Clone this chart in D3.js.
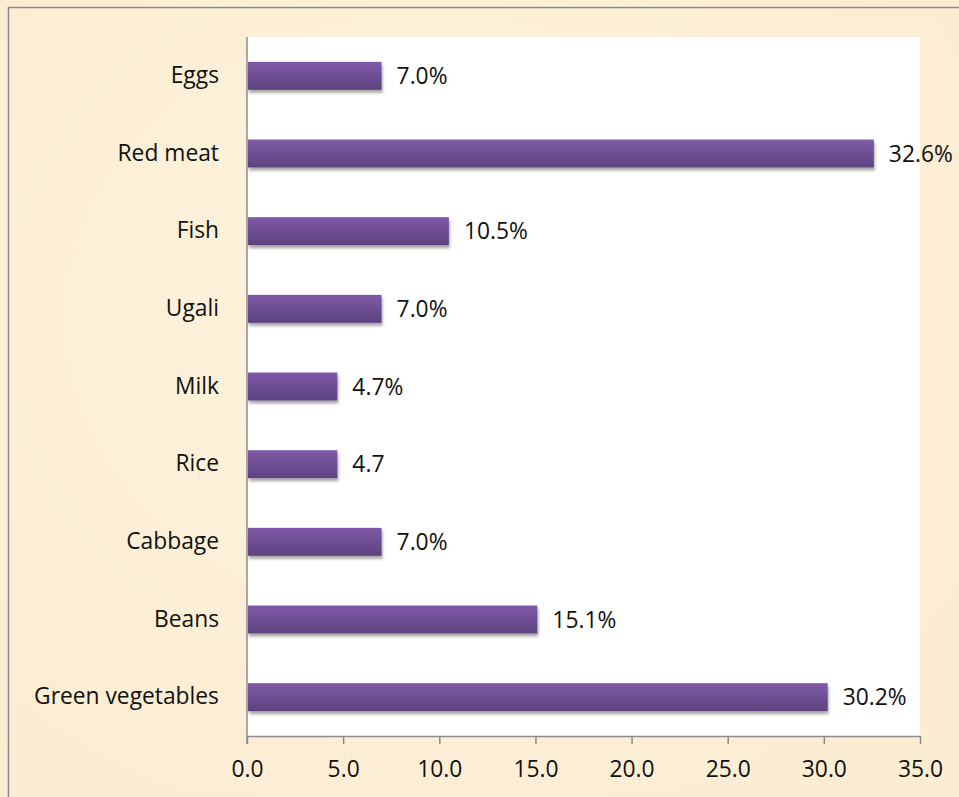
<!DOCTYPE html>
<html>
<head>
<meta charset="utf-8">
<script src="https://cdn.jsdelivr.net/npm/d3@7"></script>
<style>
  html, body { margin: 0; padding: 0; background: #fcf0d8; }
  svg { display: block; }
  text { font-family: "Open Sans", Lato, sans-serif; fill: #111; }
</style>
</head>
<body>
<svg id="chart" width="959" height="797"></svg>
<script>
// Food items, listed top to bottom
const categories = ["Eggs", "Red meat", "Fish", "Ugali", "Milk", "Rice", "Cabbage", "Beans", "Green vegetables"];
// Share of respondents (%)
const values = [7.0, 32.6, 10.5, 7.0, 4.7, 4.7, 7.0, 15.1, 30.2];
// Printed value labels
const valueLabels = ["7.0%", "32.6%", "10.5%", "7.0%", "4.7%", "4.7", "7.0%", "15.1%", "30.2%"];
// X axis ticks
const xTicks = [0, 5, 10, 15, 20, 25, 30, 35];

const W = 959, H = 797;
const plot = { left: 247, top: 37, right: 920, bottom: 736 };
const FONT = "'Open Sans', Lato, sans-serif";
const FS = 22.8;

const svg = d3.select("#chart");
const defs = svg.append("defs");

// Parchment background
const bg = defs.append("radialGradient").attr("id", "paper").attr("cx", "45%").attr("cy", "40%").attr("r", "75%");
bg.append("stop").attr("offset", "0%").attr("stop-color", "#fdf2dc");
bg.append("stop").attr("offset", "100%").attr("stop-color", "#fbedd2");

// Bar fill: lighter purple on top, darker at the bottom
const barGrad = defs.append("linearGradient").attr("id", "barFill").attr("x1", 0).attr("y1", 0).attr("x2", 0).attr("y2", 1);
barGrad.append("stop").attr("offset", "0%").attr("stop-color", "#7f5aa9");
barGrad.append("stop").attr("offset", "100%").attr("stop-color", "#5c427e");

// Soft drop shadow under each bar
const shadow = defs.append("filter").attr("id", "barShadow")
  .attr("x", "-5%").attr("y", "-30%").attr("width", "110%").attr("height", "170%");
shadow.append("feGaussianBlur").attr("in", "SourceAlpha").attr("stdDeviation", 1.6).attr("result", "blur");
shadow.append("feOffset").attr("in", "blur").attr("dx", 1).attr("dy", 3).attr("result", "off");
shadow.append("feComponentTransfer").attr("in", "off").attr("result", "shade")
  .append("feFuncA").attr("type", "linear").attr("slope", 0.35);
const merge = shadow.append("feMerge");
merge.append("feMergeNode").attr("in", "shade");
merge.append("feMergeNode").attr("in", "SourceGraphic");

svg.append("rect").attr("width", W).attr("height", H).attr("fill", "url(#paper)");

// Outer chart frame
svg.append("rect")
  .attr("x", 8.5).attr("y", 7.5).attr("width", W + 10).attr("height", H + 10)
  .attr("fill", "none").attr("stroke", "#8a8a8a").attr("stroke-width", 1.5);

// Plot area
svg.append("rect")
  .attr("x", plot.left).attr("y", plot.top)
  .attr("width", plot.right - plot.left).attr("height", plot.bottom - plot.top)
  .attr("fill", "#ffffff");

const x = d3.scaleLinear().domain([0, 35]).range([plot.left, plot.right]);
const y = d3.scaleBand().domain(categories).range([plot.top, plot.bottom]).paddingInner(0.64).paddingOuter(0.32);

// Bars
svg.append("g").selectAll("rect")
  .data(categories)
  .join("rect")
  .attr("x", x(0) + 1)
  .attr("y", d => y(d))
  .attr("width", (d, i) => x(values[i]) - x(0) - 1)
  .attr("height", y.bandwidth())
  .attr("fill", "url(#barFill)")
  .attr("filter", "url(#barShadow)");

// Value labels
svg.append("g").selectAll("text")
  .data(categories)
  .join("text")
  .attr("x", (d, i) => x(values[i]) + 15)
  .attr("y", d => y(d) + y.bandwidth() / 2)
  .attr("dy", "0.36em")
  .attr("font-size", FS)
  .text((d, i) => valueLabels[i]);

// Category axis
const yAxis = svg.append("g")
  .attr("transform", `translate(${plot.left},0)`)
  .call(d3.axisLeft(y).tickSize(0).tickPadding(28));
yAxis.select(".domain").attr("stroke", "#8c8c8c").attr("stroke-width", 1.5)
  .attr("d", `M0,${plot.top}V${plot.bottom + 8}`);
yAxis.selectAll("text").attr("font-size", FS).attr("font-family", FONT).attr("fill", "#111");

// Value axis
const xAxis = svg.append("g")
  .attr("transform", `translate(0,${plot.bottom})`)
  .call(d3.axisBottom(x).tickValues(xTicks).tickFormat(d3.format(".1f")).tickSize(8).tickSizeOuter(0).tickPadding(17));
xAxis.select(".domain").attr("stroke", "#8c8c8c").attr("stroke-width", 1.5);
xAxis.selectAll(".tick line").attr("stroke", "#8c8c8c").attr("stroke-width", 1.5);
xAxis.selectAll("text").attr("font-size", FS).attr("font-family", FONT).attr("fill", "#111");
</script>
</body>
</html>
